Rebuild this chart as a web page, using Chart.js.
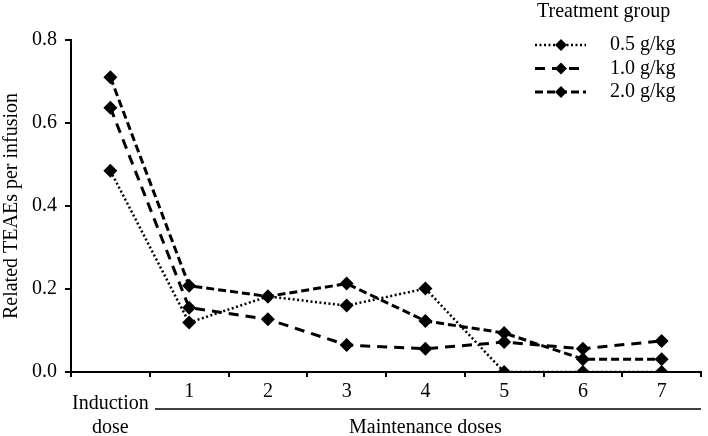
<!DOCTYPE html>
<html>
<head>
<meta charset="utf-8">
<script src="https://cdn.jsdelivr.net/npm/chart.js@4"></script>
<style>
  html, body { margin: 0; padding: 0; background: #fff; }
  #wrap { width: 708px; height: 436px; }
</style>
</head>
<body>
<div id="wrap"><canvas id="teaeChart" width="708" height="436"></canvas></div>
<script>
// doses: first one is the induction dose, then maintenance doses 1..7
const doseLabels = ['Induction', '1', '2', '3', '4', '5', '6', '7'];
const groupNames = ['0.5 g/kg', '1.0 g/kg', '2.0 g/kg'];
const low = [0.485, 0.119, 0.182, 0.160, 0.201, 0.0, 0.0, 0.0];
const mid = [0.637, 0.155, 0.127, 0.065, 0.056, 0.072, 0.056, 0.075];
const high = [0.710, 0.208, 0.182, 0.213, 0.123, 0.094, 0.031, 0.031];
const yTicks = [0, 0.2, 0.4, 0.6, 0.8];

const serif = '"Liberation Serif", "Times New Roman", serif';
const dashes = [[2, 2.5], [10, 7], [8, 4]];
const widths = [2.5, 3, 3];

const makeSet = (label, data, dash, w) => ({
    label: label,
    data: data,
    borderColor: '#000',
    borderWidth: w,
    borderDash: dash,
    backgroundColor: '#000',
    pointStyle: 'rectRot',
    pointRadius: 7,
    pointBorderWidth: 0,
    tension: 0,
    fill: false,
});

// draws legend, the "Induction dose" label and the maintenance bracket
const extras = {
    id: 'extras',
    afterDraw(chart) {
        const ctx = chart.ctx;
        const x = chart.scales.x;
        ctx.save();
        ctx.fillStyle = '#000';
        ctx.strokeStyle = '#000';
        ctx.font = '20px ' + serif;
        ctx.textAlign = 'center';
        ctx.textBaseline = 'middle';

        const cx = x.getPixelForValue(0);
        ctx.fillText('Induction', cx, 404);
        ctx.fillText('dose', cx, 428);

        ctx.lineWidth = 1.5;
        ctx.beginPath();
        ctx.moveTo(155, 409);
        ctx.lineTo(x.right, 409);
        ctx.stroke();
        ctx.fillText('Maintenance doses', (x.getPixelForValue(1) + x.getPixelForValue(7)) / 2, 428);

        // legend
        ctx.textAlign = 'left';
        ctx.fillText('Treatment group', 537, 12);
        chart.data.datasets.forEach((ds, i) => {
            const y = 45 + i * 23.5;
            ctx.setLineDash(ds.borderDash);
            ctx.lineWidth = ds.borderWidth;
            ctx.beginPath();
            ctx.moveTo(535, y);
            ctx.lineTo(586, y);
            ctx.stroke();
            ctx.setLineDash([]);
            ctx.beginPath();
            ctx.moveTo(561, y - 6);
            ctx.lineTo(567, y);
            ctx.lineTo(561, y + 6);
            ctx.lineTo(555, y);
            ctx.closePath();
            ctx.fill();
            ctx.fillText(ds.label, 610, y);
        });
        ctx.restore();
    },
};

const ctx = document.getElementById('teaeChart').getContext('2d');
new Chart(ctx, {
    type: 'line',
    data: {
        labels: doseLabels,
        datasets: [
            makeSet(groupNames[0], low, dashes[0], widths[0]),
            makeSet(groupNames[1], mid, dashes[1], widths[1]),
            makeSet(groupNames[2], high, dashes[2], widths[2]),
        ],
    },
    options: {
        responsive: false,
        animation: false,
        layout: { padding: { top: 40, right: 4, left: 0, bottom: 0 } },
        plugins: {
            legend: { display: false },
            tooltip: { enabled: false },
        },
        scales: {
            x: {
                type: 'category',
                offset: true,
                grid: {
                    offset: true,
                    drawOnChartArea: false,
                    tickLength: 5,
                    color: '#000',
                    lineWidth: 2,
                },
                border: { color: '#000', width: 2 },
                ticks: {
                    color: '#000',
                    font: { family: serif, size: 20 },
                    padding: 3,
                    maxRotation: 0,
                    autoSkip: false,
                    callback: (v, i) => (i === 0 ? '' : doseLabels[i]),
                },
                afterFit: (scale) => { scale.height = 64; },
            },
            y: {
                min: 0,
                max: 0.8,
                afterBuildTicks: (scale) => {
                    scale.ticks = yTicks.map((v) => ({ value: v }));
                },
                grid: {
                    drawOnChartArea: false,
                    tickLength: 6,
                    color: '#000',
                    lineWidth: 2,
                },
                border: { color: '#000', width: 2 },
                ticks: {
                    color: '#000',
                    font: { family: serif, size: 20 },
                    padding: 8,
                    callback: (v) => Number(v).toFixed(1),
                },
                title: {
                    display: true,
                    text: 'Related TEAEs per infusion',
                    color: '#000',
                    font: { family: serif, size: 20 },
                    padding: { top: 0, bottom: 2 },
                },
                afterFit: (scale) => { scale.width = 71; },
            },
        },
    },
    plugins: [extras],
});
</script>
</body>
</html>
